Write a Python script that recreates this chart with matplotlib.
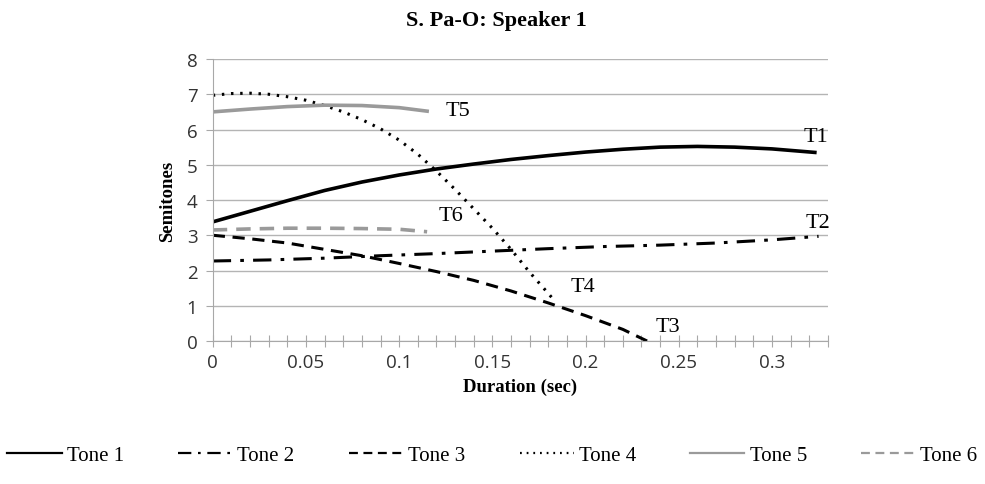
import matplotlib
matplotlib.use('Agg')
import numpy as np
import matplotlib.pyplot as plt
from matplotlib.ticker import MultipleLocator, FuncFormatter

# values (duration in sec, pitch in semitones)
t1_x = [0, 0.02, 0.04, 0.06, 0.08, 0.10, 0.12, 0.14, 0.16, 0.18, 0.20, 0.22, 0.24, 0.26, 0.28, 0.30, 0.323]
t1_y = [3.38, 3.68, 3.98, 4.27, 4.51, 4.71, 4.88, 5.02, 5.15, 5.26, 5.36, 5.44, 5.50, 5.52, 5.50, 5.45, 5.35]

t2_x = [0, 0.03, 0.06, 0.09, 0.12, 0.15, 0.18, 0.21, 0.24, 0.27, 0.30, 0.325]
t2_y = [2.27, 2.30, 2.35, 2.42, 2.48, 2.55, 2.62, 2.68, 2.72, 2.78, 2.87, 2.97]

t3_x = [0, 0.02, 0.04, 0.06, 0.08, 0.10, 0.12, 0.14, 0.16, 0.18, 0.20, 0.22, 0.233]
t3_y = [3.0, 2.9, 2.78, 2.6, 2.42, 2.2, 1.97, 1.72, 1.42, 1.08, 0.72, 0.33, 0.0]

t4_x = [0, 0.01, 0.02, 0.03, 0.04, 0.05, 0.06, 0.07, 0.08, 0.09, 0.10, 0.11, 0.12, 0.13, 0.14, 0.15, 0.16, 0.17, 0.18, 0.184]
t4_y = [6.97, 7.02, 7.03, 7.0, 6.93, 6.83, 6.68, 6.5, 6.28, 6.02, 5.7, 5.3, 4.82, 4.3, 3.75, 3.2, 2.6, 1.95, 1.35, 1.1]

t5_x = [0, 0.02, 0.04, 0.06, 0.08, 0.10, 0.115]
t5_y = [6.5, 6.58, 6.65, 6.69, 6.68, 6.62, 6.52]

t6_x = [0, 0.02, 0.04, 0.06, 0.08, 0.10, 0.115]
t6_y = [3.15, 3.18, 3.2, 3.2, 3.19, 3.17, 3.1]

tags = ['T1', 'T2', 'T3', 'T4', 'T5', 'T6']
tag_x = [0.317, 0.318, 0.2376, 0.192, 0.125, 0.121]
tag_y = [5.8, 3.35, 0.41, 1.56, 6.55, 3.56]

serif = 'Liberation Serif'

fig = plt.figure(figsize=(9.85, 4.85), dpi=100)
ax = fig.add_axes([0.216, 0.2948, 0.6245, 0.5815])

ax.plot(t1_x, t1_y, color='black', lw=2.6, ls='-', label='Tone 1')
ax.plot(t2_x, t2_y, color='black', lw=2.2, ls=(0, (6, 3, 1.2, 3)), label='Tone 2')
ax.plot(t3_x, t3_y, color='black', lw=2.2, ls=(0, (4, 2.5)), label='Tone 3')
ax.plot(t4_x, t4_y, color='black', lw=2.2, ls=(0, (0.8, 2.2)), label='Tone 4')
ax.plot(t5_x, t5_y, color='#9a9a9a', lw=2.6, ls='-', label='Tone 5')
ax.plot(t6_x, t6_y, color='#9a9a9a', lw=2.6, ls=(0, (4, 2.5)), label='Tone 6')

for s, x, y in zip(tags, tag_x, tag_y):
    ax.text(x, y, s, fontsize=16, family=serif, va='center', ha='left')

ax.set_xlim(0, 0.33)
ax.set_ylim(0, 8)
ax.xaxis.set_major_locator(MultipleLocator(0.01))
ax.xaxis.set_major_formatter(FuncFormatter(
    lambda v, p: ('%g' % round(v, 2)) if abs(v / 0.05 - round(v / 0.05)) < 1e-6 else ''))
ax.yaxis.set_major_locator(MultipleLocator(1))
ax.grid(axis='y', color='#b4b4b4', lw=1)
ax.set_axisbelow(True)
for sp in ['top', 'right']:
    ax.spines[sp].set_visible(False)
for sp in ['left', 'bottom']:
    ax.spines[sp].set_color('#a8a8a8')
ax.tick_params(axis='x', direction='inout', length=9, color='#a8a8a8',
               labelsize=13.5, pad=4)
ax.tick_params(axis='y', direction='out', length=5, color='#a8a8a8',
               labelsize=13.5, pad=6)
for lab in ax.get_xticklabels() + ax.get_yticklabels():
    lab.set_family('Open Sans')
    lab.set_color('#333333')

ax.set_xlabel('Duration (sec)', family=serif, fontweight='bold', fontsize=13.5, labelpad=5)
ax.set_ylabel('Semitones', family=serif, fontweight='bold', fontsize=13.5, labelpad=8)
fig.text(0.504, 0.957, 'S. Pa-O: Speaker 1', family=serif, fontweight='bold',
         fontsize=16, ha='center', va='center')

leg = fig.legend(loc='lower center', bbox_to_anchor=(0.5, 0.0), ncol=6, frameon=False,
                 prop={'family': serif, 'size': 15}, handlelength=2.6, handletextpad=0.25,
                 columnspacing=2.6)
# thinner handles in the legend, as in the original
for ln in leg.get_lines():
    ln.set_linewidth(1.6)

fig.savefig('out.png', dpi=100)
